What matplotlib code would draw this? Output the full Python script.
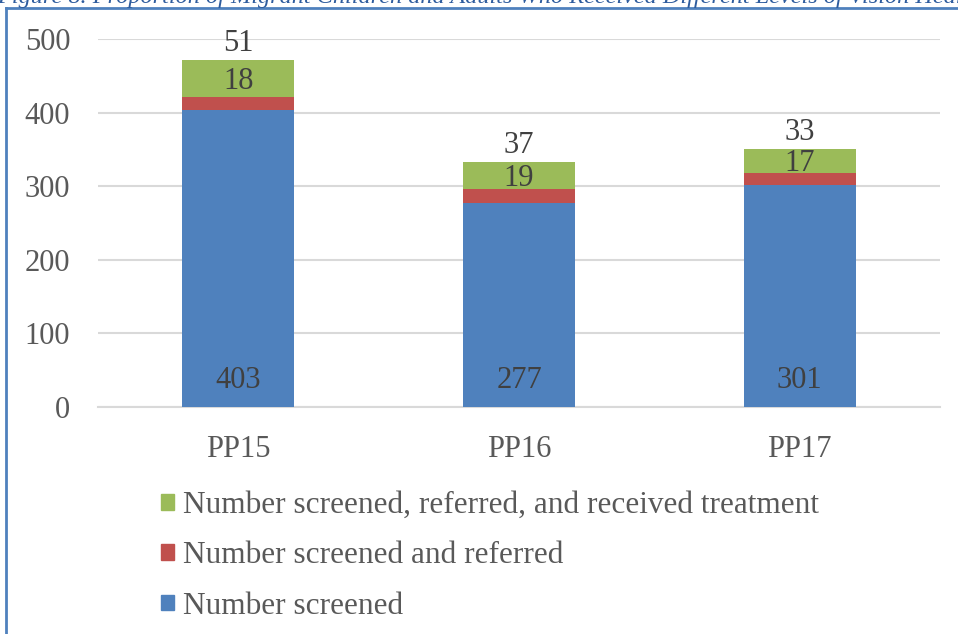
import matplotlib
matplotlib.use("Agg")
import matplotlib.pyplot as plt
import numpy as np
from matplotlib.patches import Rectangle
from matplotlib.lines import Line2D

periods = ["PP15", "PP16", "PP17"]
screened = [403, 277, 301]
referred = [18, 19, 17]
treated = [51, 37, 33]
series_names = ["Number screened, referred, and received treatment",
                "Number screened and referred",
                "Number screened"]
title = ("Figure 8. Proportion of Migrant Children and Adults Who Received "
         "Different Levels of Vision Health Services")

c_blue = "#4F81BD"
c_red = "#C0504D"
c_green = "#9BBB59"
txt = "#404040"
tick_c = "#595959"
font = "Liberation Serif"

fig = plt.figure(figsize=(9.58, 6.34), dpi=100)
W, H = 958, 634
ax = fig.add_axes([98 / W, (H - 407) / H, 842 / W, 368 / H])

x = np.arange(len(periods))
scr = np.array(screened)
ref = np.array(referred)
trt = np.array(treated)
bw = 0.4
ax.bar(x, scr, bw, color=c_blue, zorder=3)
ax.bar(x, ref, bw, bottom=scr, color=c_red, zorder=3)
ax.bar(x, trt, bw, bottom=scr + ref, color=c_green, zorder=3)

# data labels (placed as in the original figure)
for i in range(len(x)):
    ax.text(x[i], 36, str(scr[i]), ha="center", va="center",
            fontsize=22, family=font, color=txt, zorder=4)
    ax.text(x[i], scr[i] + ref[i] + trt[i] / 2 - 4, str(ref[i]), ha="center",
            va="center", fontsize=22, family=font, color=txt, zorder=4)
    ax.text(x[i], scr[i] + ref[i] + trt[i] + 22, str(trt[i]), ha="center",
            va="center", fontsize=22, family=font, color=txt, zorder=4)

ax.set_xlim(-0.5, 2.5)
ax.set_ylim(0, 500)
ax.set_yticks(range(0, 501, 100))
ax.set_xticks(x)
ax.set_xticklabels(periods)
for s in ["top", "right", "left"]:
    ax.spines[s].set_visible(False)
ax.spines["bottom"].set_color("#D9D9D9")
ax.spines["bottom"].set_linewidth(1.5)
ax.grid(axis="y", color="#D9D9D9", linewidth=1.5, zorder=0)
ax.tick_params(axis="both", length=0, labelsize=22, colors=tick_c)
ax.tick_params(axis="y", pad=20)
ax.tick_params(axis="x", pad=20)
for lab in ax.get_xticklabels() + ax.get_yticklabels():
    lab.set_family(font)

handles = [Rectangle((0, 0), 1, 1, color=c) for c in [c_green, c_red, c_blue]]
leg = fig.legend(handles, series_names, loc="upper left",
                 bbox_to_anchor=(133 / W, 1 - 463 / H), frameon=False,
                 prop={"family": font, "size": 22.5}, labelcolor=tick_c,
                 handlelength=0.4, handleheight=0.4, handletextpad=0.3,
                 labelspacing=0.68)

# frame around the figure and clipped caption above
fig.add_artist(Line2D([6 / W, 6 / W], [0, 1 - 8 / H], color="#4F81BD",
                      linewidth=2, transform=fig.transFigure))
fig.add_artist(Line2D([6 / W, 1], [1 - 8 / H, 1 - 8 / H], color="#4F81BD",
                      linewidth=2, transform=fig.transFigure))
fig.text(-3 / W, 1 - 3 / H, title, ha="left", va="baseline", fontsize=17.5,
         style="italic", family=font, color="#2E5C9E")

fig.savefig("out.png", dpi=100)
